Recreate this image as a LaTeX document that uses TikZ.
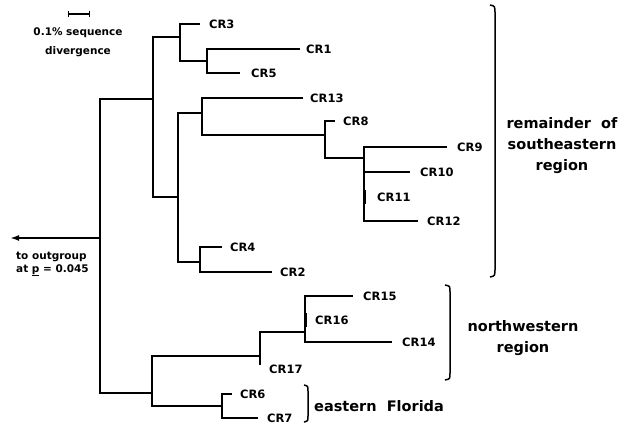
\documentclass[tikz,border=0pt]{standalone}
\usepackage{fontspec}
\setmainfont{DejaVu Sans}
\usetikzlibrary{positioning,arrows.meta}

\begin{document}
\begin{tikzpicture}[x=1pt,y=-1pt,
    branch/.style={line width=1.8pt},
    tip/.style={font=\bfseries\fontsize{11.5}{13}\selectfont, inner sep=0pt},
    note/.style={font=\bfseries\fontsize{10.5}{13}\selectfont, inner sep=0pt},
    region/.style={font=\bfseries\fontsize{14.5}{21}\selectfont, align=center, inner sep=0pt},
    kurung/.style={line width=1.5pt}]
    \useasboundingbox (0,0) rectangle (634,424);

    % Simpul dalam
    \coordinate (root) at (100,238);
    \coordinate (nA) at (153,99);
    \coordinate (nB) at (180,37);
    \coordinate (nD) at (207,61);
    \coordinate (nC) at (178,197);
    \coordinate (nE) at (202,113);
    \coordinate (nG) at (325,135);
    \coordinate (nH) at (364,158);
    \coordinate (nF) at (200,262);
    \coordinate (nL) at (152,393);
    \coordinate (nM) at (260,356);
    \coordinate (nO) at (305,332);
    \coordinate (nN) at (222,406);

    % Ujung cabang
    \coordinate (t3) at (200,24);
    \coordinate (t1) at (300,49);
    \coordinate (t5) at (240,73);
    \coordinate (t13) at (303,98);
    \coordinate (t8) at (335,121);
    \coordinate (t9) at (447,147);
    \coordinate (t10) at (410,172);
    \coordinate (t11) at (364,197);
    \coordinate (t12) at (418,221);
    \coordinate (t4) at (222,247);
    \coordinate (t2) at (272,272);
    \coordinate (t15) at (353,296);
    \coordinate (t16) at (305,320);
    \coordinate (t14) at (392,342);
    \coordinate (t17) at (260,365);
    \coordinate (t6) at (232,394);
    \coordinate (t7) at (258,418);

    % Cabang pohon
    \foreach \p/\c in {root/nA, root/nL, nA/nB, nA/nC, nB/t3, nB/nD, nD/t1, nD/t5,
        nC/nE, nC/nF, nE/t13, nE/nG, nG/t8, nG/nH, nH/t9, nH/t10, nH/t11, nH/t12,
        nF/t4, nF/t2, nL/nM, nL/nN, nM/nO, nM/t17, nO/t15, nO/t16, nO/t14,
        nN/t6, nN/t7}
        \draw[branch] (\p) |- (\c);
    \draw[line width=3pt] ([yshift=-7pt]t11) -- ([yshift=7pt]t11);
    \draw[line width=3pt] ([yshift=-7pt]t16) -- ([yshift=7pt]t16);

    % Label ujung
    \node[tip, right=9pt of t3] (cr3) {CR3};
    \node[tip, right=6pt of t1] (cr1) {CR1};
    \node[tip, right=11pt of t5] (cr5) {CR5};
    \node[tip, right=7pt of t13] (cr13) {CR13};
    \node[tip, right=8pt of t8] (cr8) {CR8};
    \node[tip, right=10pt of t9] (cr9) {CR9};
    \node[tip, right=10pt of t10] (cr10) {CR10};
    \node[tip, right=13pt of t11] (cr11) {CR11};
    \node[tip, right=9pt of t12] (cr12) {CR12};
    \node[tip, right=8pt of t4] (cr4) {CR4};
    \node[tip, right=8pt of t2] (cr2) {CR2};
    \node[tip, right=10pt of t15] (cr15) {CR15};
    \node[tip, right=10pt of t16] (cr16) {CR16};
    \node[tip, right=10pt of t14] (cr14) {CR14};
    \node[tip, below right=0pt and 9pt of t17] (cr17) {CR17};
    \node[tip, right=8pt of t6] (cr6) {CR6};
    \node[tip, right=9pt of t7] (cr7) {CR7};

    % Akar ke outgroup
    \coordinate (out) at (10,238);
    \draw[branch, -{Latex[length=9pt,width=6pt]}] (root) -- (out);
    \node[note, align=left, anchor=west] (outlbl) at (16,264) {to outgroup\\at \underline{p} = 0.045};

    % Skala
    \coordinate (sb1) at (68,14);
    \coordinate (sb2) at (90,14);
    \draw[line width=1.3pt, {Bar[width=6pt]}-{Bar[width=6pt]}] (sb1) -- (sb2);
    \node[note, align=center, font=\bfseries\fontsize{10.5}{19}\selectfont] (sblbl) at (78,42) {0.1\% sequence\\divergence};

    % Kurung kelompok
    \draw[kurung] (490,5) .. controls (495,6) .. (495,14) -- (495,268) .. controls (495,276) .. (490,277);
    \draw[kurung] (445,285) .. controls (450,286) .. (450,292) -- (450,373) .. controls (450,379) .. (445,380);
    \draw[kurung] (304,385) .. controls (308,386) .. (308,391) -- (308,416) .. controls (308,421) .. (304,422);
    \node[region] (se) at (562,146) {remainder\ \ of\\southeastern\\region};
    \node[region] (nw) at (523,338) {northwestern\\region};
    \node[region, anchor=west] (ef) at (314,406) {eastern\ \ Florida};
\end{tikzpicture}
\end{document}
